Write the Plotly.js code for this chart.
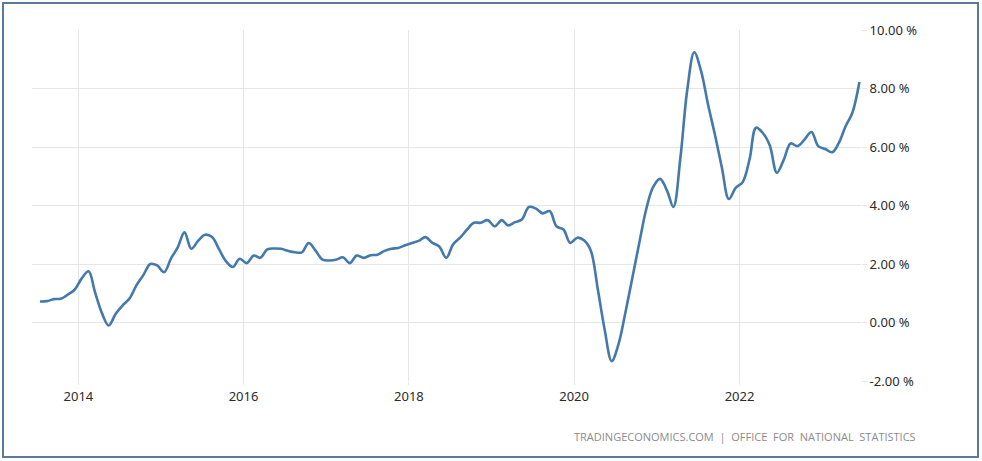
<!DOCTYPE html>
<html>
<head>
<meta charset="utf-8">
<script src="https://cdn.plot.ly/plotly-3.0.1.min.js"></script>
<style>
  html, body { margin: 0; padding: 0; background: #ffffff; }
  #wrap { position: relative; width: 982px; height: 461px; }
  #chart { position: absolute; left: 0; top: 0; width: 982px; height: 461px; }
  #frame { position: absolute; left: 2px; top: 2px; width: 977px; height: 456px;
           box-sizing: border-box; border: 2px solid #5b7a99; pointer-events: none; }
</style>
</head>
<body>
<div id="wrap">
  <div id="chart"></div>
  <div id="frame"></div>
</div>
<script>
// Monthly values (%)
const vals2013 = [0.72, 0.73, 0.80, 0.81, 0.95, 1.12];               // Jul-Dec 2013
const vals2014 = [1.50, 1.75, 1.05, 0.32, -0.10, 0.30, 0.58, 0.82, 1.28, 1.62, 2.00, 1.95];
const vals2015 = [1.72, 2.20, 2.55, 3.08, 2.52, 2.80, 3.00, 2.92, 2.50, 2.10, 1.90, 2.18];
const vals2016 = [2.03, 2.29, 2.21, 2.50, 2.53, 2.52, 2.45, 2.40, 2.40, 2.72, 2.45, 2.15];
const vals2017 = [2.12, 2.15, 2.23, 2.03, 2.29, 2.21, 2.30, 2.32, 2.45, 2.52, 2.55, 2.64];
const vals2018 = [2.72, 2.80, 2.92, 2.72, 2.60, 2.21, 2.67, 2.90, 3.18, 3.41, 3.41, 3.50];
const vals2019 = [3.29, 3.50, 3.32, 3.43, 3.52, 3.95, 3.90, 3.73, 3.81, 3.29, 3.18, 2.72];
const vals2020 = [2.90, 2.80, 2.45, 1.13, -0.24, -1.32, -0.75, 0.35, 1.55, 2.72, 3.88, 4.63];
const vals2021 = [4.91, 4.50, 3.95, 5.65, 7.95, 9.24, 8.60, 7.45, 6.40, 5.30, 4.22, 4.60];
const vals2022 = [4.80, 5.60, 6.66, 6.47, 6.05, 5.12, 5.55, 6.12, 6.03, 6.25, 6.51, 6.03];
const vals2023 = [5.93, 5.82, 6.12, 6.71, 7.17, 8.22];               // Jan-Jun 2023

const yearBlocks = [
  {year: 2013, firstMonth: 7, values: vals2013},
  {year: 2014, firstMonth: 1, values: vals2014},
  {year: 2015, firstMonth: 1, values: vals2015},
  {year: 2016, firstMonth: 1, values: vals2016},
  {year: 2017, firstMonth: 1, values: vals2017},
  {year: 2018, firstMonth: 1, values: vals2018},
  {year: 2019, firstMonth: 1, values: vals2019},
  {year: 2020, firstMonth: 1, values: vals2020},
  {year: 2021, firstMonth: 1, values: vals2021},
  {year: 2022, firstMonth: 1, values: vals2022},
  {year: 2023, firstMonth: 1, values: vals2023}
];

const yTickVals = [-2, 0, 2, 4, 6, 8, 10];
const yTickText = ["-2.00 %", "0.00 %", "2.00 %", "4.00 %", "6.00 %", "8.00 %", "10.00 %"];
const xTickVals = ["2014-01-01", "2016-01-01", "2018-01-01", "2020-01-01", "2022-01-01"];
const xTickText = ["2014", "2016", "2018", "2020", "2022"];
const sourceText = "TRADINGECONOMICS.COM  |  OFFICE  FOR  NATIONAL  STATISTICS";

const dates = [], values = [];
yearBlocks.forEach(b => {
  b.values.forEach((v, i) => {
    const m = b.firstMonth + i;
    dates.push(b.year + "-" + String(m).padStart(2, "0") + "-15");
    values.push(v);
  });
});

const gridColor = "#e6e6e6";
const tickFont = {family: "Noto Sans, Open Sans, sans-serif", size: 13, color: "#2b2b2b"};

const trace = {
  x: dates, y: values, type: "scatter", mode: "lines",
  line: {color: "#4479ab", width: 2.6, shape: "spline", smoothing: 1},
  hoverinfo: "skip"
};

const layout = {
  width: 982, height: 461,
  margin: {l: 32, r: 121, t: 30, b: 80, pad: 0},
  paper_bgcolor: "#ffffff", plot_bgcolor: "#ffffff",
  showlegend: false,
  xaxis: {
    type: "date", range: ["2013-06-10", "2023-06-22"],
    tickmode: "array", tickvals: xTickVals, ticktext: xTickText,
    showgrid: true, gridcolor: gridColor, gridwidth: 1,
    ticks: "outside", ticklen: 3, tickcolor: gridColor,
    showline: false, zeroline: false, tickfont: tickFont, fixedrange: true
  },
  yaxis: {
    side: "right", range: [-2, 10],
    tickmode: "array", tickvals: yTickVals, ticktext: yTickText,
    showgrid: true, gridcolor: gridColor, gridwidth: 1,
    ticks: "outside", ticklen: 5, tickcolor: gridColor,
    showline: false, zeroline: false, tickfont: tickFont, fixedrange: true
  },
  annotations: [{
    text: sourceText, xref: "paper", yref: "paper",
    x: 1.0688, y: -0.157, xanchor: "right", yanchor: "middle",
    showarrow: false,
    font: {family: "Open Sans, Noto Sans, sans-serif", size: 11, color: "#8c8c8c"}
  }]
};

Plotly.newPlot("chart", [trace], layout, {displayModeBar: false, staticPlot: true});
</script>
</body>
</html>
